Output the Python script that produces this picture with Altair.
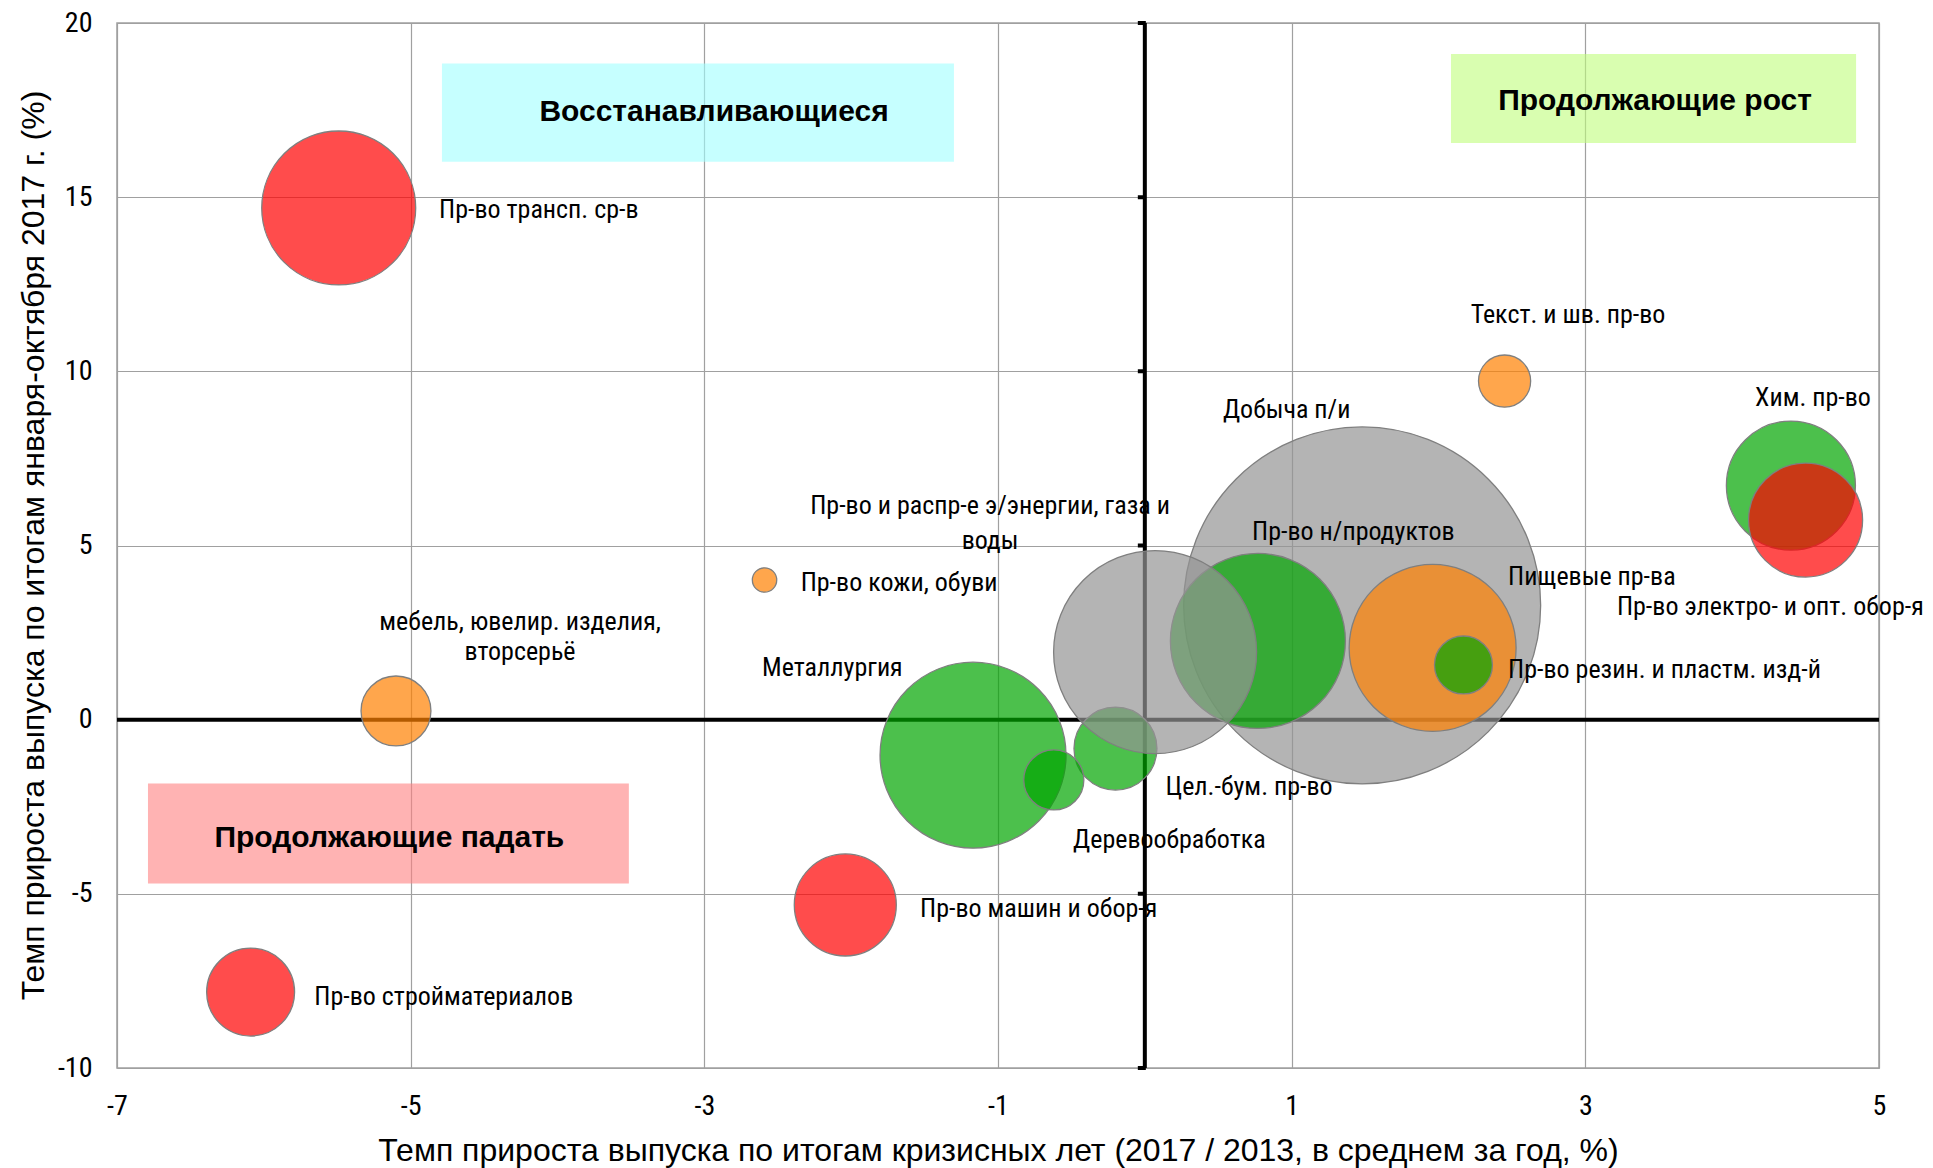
import altair as alt
import pandas as pd

# ---------------- data ----------------
names = [
    "Добыча п/и",
    "Пр-во н/продуктов",
    "Цел.-бум. пр-во",
    "Пр-во и распр-е э/энергии, газа и воды",
    "Пищевые пр-ва",
    "Пр-во резин. и пластм. изд-й",
    "Металлургия",
    "Деревообработка",
    "Пр-во трансп. ср-в",
    "Хим. пр-во",
    "Пр-во электро- и опт. обор-я",
    "Текст. и шв. пр-во",
    "Пр-во кожи, обуви",
    "мебель, ювелир. изделия, вторсерьё",
    "Пр-во машин и обор-я",
    "Пр-во стройматериалов",
]
x_vals = [1.48, 0.77, -0.20, 0.07, 1.96, 2.17, -1.17, -0.62, -5.49, 4.40, 4.50, 2.45, -2.59, -5.10, -2.04, -6.09]
y_vals = [3.28, 2.26, -0.83, 1.94, 2.06, 1.57, -1.02, -1.73, 14.69, 6.72, 5.73, 9.72, 4.01, 0.25, -5.32, -7.82]
weights = [30.0, 7.21, 1.62, 9.70, 6.56, 0.79, 8.14, 0.85, 5.58, 3.92, 3.06, 0.64, 0.14, 1.15, 2.45, 1.82]
groups = ["gray", "green", "green", "gray", "orange", "green", "green", "green",
          "red", "green", "red", "orange", "orange", "orange", "red", "red"]

group_domain = ["red", "green", "orange", "gray"]
group_colors = ["#FF0000", "#00A500", "#FF8000", "#949494"]

# labels (left aligned)
lab_left_text = [
    "Пр-во трансп. ср-в", "Текст. и шв. пр-во", "Хим. пр-во", "Добыча п/и",
    "Пр-во н/продуктов", "Пищевые пр-ва", "Пр-во электро- и опт. обор-я",
    "Пр-во кожи, обуви", "Металлургия", "Пр-во резин. и пластм. изд-й",
    "Цел.-бум. пр-во", "Деревообработка", "Пр-во машин и обор-я",
    "Пр-во стройматериалов",
]
lab_left_x = [-4.807, 2.219, 4.156, 0.532, 0.730, 2.474, 3.215, -2.344, -2.607, 2.474, 0.141, -0.489, -1.531, -5.656]
lab_left_y = [14.63, 11.62, 9.23, 8.89, 5.39, 4.09, 3.23, 3.92, 1.48, 1.42, -1.94, -3.46, -5.44, -7.96]

# labels (centered, two-line)
lab_center_text = ["Пр-во и распр-е э/энергии, газа и", "воды", "мебель, ювелир. изделия,", "вторсерьё"]
lab_center_x = [-1.054, -1.054, -4.255, -4.255]
lab_center_y = [6.13, 5.13, 2.80, 1.94]

# quadrant boxes
box_text = ["Восстанавливающиеся", "Продолжающие рост", "Продолжающие падать"]
box_x1 = [-4.787, 2.085, -6.789]
box_x2 = [-1.300, 4.844, -3.514]
box_y1 = [18.84, 19.11, -1.83]
box_y2 = [16.02, 16.555, -4.70]
box_fill = ["#A0FFFF", "#C0FD7B", "#FF8080"]
box_tx = [-2.934, 3.475, -5.145]
box_ty = [17.44, 17.775, -3.385]

x_ticks = [-7, -5, -3, -1, 1, 3, 5]
y_ticks = [-10, -5, 0, 5, 10, 15, 20]
axis_tick_marks = [20, 15, 10, 5, -5, -10]

x_title = "Темп прироста выпуска по итогам кризисных лет (2017 / 2013, в среднем за год, %)"
y_title = "Темп прироста выпуска по итогам января-октября 2017 г. (%)"

# ---------------- tables ----------------
bubbles = pd.DataFrame({"name": names, "x": x_vals, "y": y_vals, "w": weights, "g": groups,
                        "ord": list(range(len(names)))})
lab_left = pd.DataFrame({"t": lab_left_text, "x": lab_left_x, "y": lab_left_y})
lab_center = pd.DataFrame({"t": lab_center_text, "x": lab_center_x, "y": lab_center_y})
boxes = pd.DataFrame({"t": box_text, "x": box_x1, "x2": box_x2, "y": box_y1, "y2": box_y2,
                      "fill": box_fill, "tx": box_tx, "ty": box_ty})
zero = pd.DataFrame({"v": [0]})
ticks_df = pd.DataFrame({"x": [0] * len(axis_tick_marks), "y": axis_tick_marks})

NARROW = "Roboto Condensed, Liberation Sans Narrow, Liberation Sans"
REG = "Liberation Sans, Arial"

xs = alt.Scale(domain=[-7, 5], nice=False, zero=False)
ys = alt.Scale(domain=[-10, 20], nice=False, zero=False)
xaxis = alt.Axis(values=x_ticks, title=x_title, grid=True, ticks=False, domain=False,
                 labelExpr="'' + datum.value",
                 labelFont=NARROW, labelFontSize=28, labelPadding=24, labelColor="#000000",
                 titleFont=REG, titleFontSize=32, titleFontWeight="normal", titleColor="#000000",
                 titleBaseline="top", titleY=67, labelFlush=False)
yaxis = alt.Axis(values=y_ticks, title=y_title, grid=True, ticks=False, domain=False,
                 labelExpr="'' + datum.value",
                 labelFont=NARROW, labelFontSize=28, labelPadding=25, labelColor="#000000",
                 titleFont=REG, titleFontSize=32, titleFontWeight="normal", titleColor="#000000",
                 titleAngle=270, titleBaseline="top", titleAlign="center", titleX=-99, titleY=522,
                 labelFlush=False)

def X(f):
    return alt.X(f, type="quantitative", scale=xs, axis=xaxis)

def Y(f):
    return alt.Y(f, type="quantitative", scale=ys, axis=yaxis)

box_layer = alt.Chart(boxes).mark_rect(opacity=0.6).encode(
    x=X("x"), x2="x2", y=Y("y"), y2="y2",
    fill=alt.Fill("fill:N", scale=None),
)
box_text_layer = alt.Chart(boxes).mark_text(
    font=REG, fontSize=30, fontWeight="bold", color="#000000", align="center", baseline="middle"
).encode(x=X("tx"), y=Y("ty"), text="t:N")

hline = alt.Chart(zero).mark_rule(color="#000000", strokeWidth=4).encode(y=Y("v"))
vline = alt.Chart(zero).mark_rule(color="#000000", strokeWidth=4).encode(x=X("v"))
vticks = alt.Chart(ticks_df).mark_tick(
    orient="horizontal", color="#000000", size=8, thickness=4, xOffset=-3, opacity=1
).encode(x=X("x"), y=Y("y"))

bubble_layer = alt.Chart(bubbles).mark_circle(
    opacity=1, fillOpacity=0.7, stroke="#7F7F7F", strokeWidth=1.3, strokeOpacity=1
).encode(
    x=X("x"), y=Y("y"),
    size=alt.Size("w:Q", scale=alt.Scale(domain=[0, 30], range=[0, 127449]), legend=None),
    color=alt.Color("g:N", scale=alt.Scale(domain=group_domain, range=group_colors), legend=None),
    order=alt.Order("ord:Q"),
)

left_labels = alt.Chart(lab_left).mark_text(
    font=NARROW, fontSize=26, color="#000000", align="left", baseline="middle"
).encode(x=X("x"), y=Y("y"), text="t:N")
center_labels = alt.Chart(lab_center).mark_text(
    font=NARROW, fontSize=26, color="#000000", align="center", baseline="middle"
).encode(x=X("x"), y=Y("y"), text="t:N")

chart = alt.layer(
    box_layer, hline, vline, vticks, bubble_layer, box_text_layer, left_labels, center_labels
).properties(
    width=1762, height=1045,
    autosize=alt.AutoSizeParams(type="none"),
    padding={"left": 109, "top": 15, "right": 46, "bottom": 100},
).configure_view(
    stroke="#A0A0A0", strokeWidth=1.5
).configure_axis(
    gridColor="#A0A0A0", gridWidth=1.2, gridOpacity=1
)

chart.save("out.html", embed_options={"renderer": "svg", "actions": False})
